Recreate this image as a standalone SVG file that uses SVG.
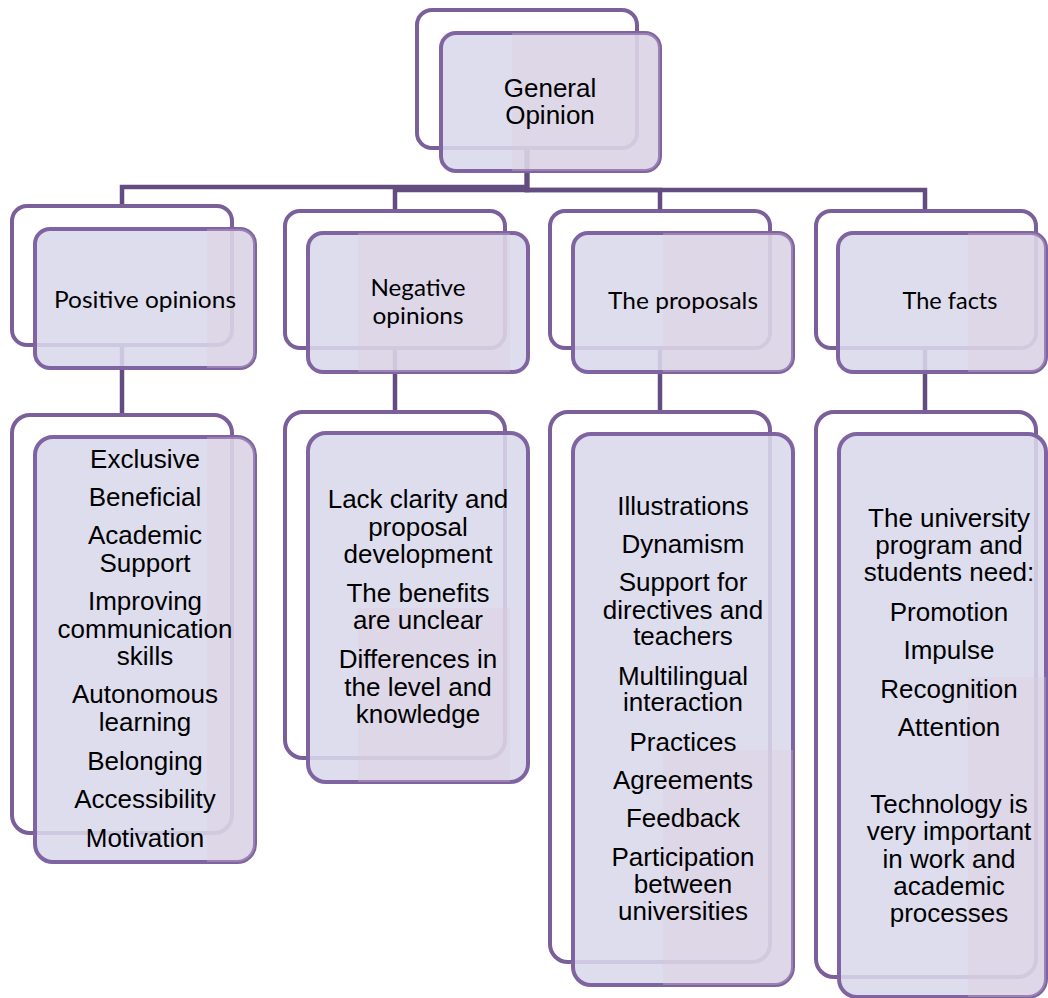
<svg xmlns="http://www.w3.org/2000/svg" width="1048" height="998" viewBox="0 0 1048 998">
<style>
.back{fill:#ffffff;stroke:#7b5f9b;stroke-width:4}
.front{fill:#d9d8ea;fill-opacity:0.88;stroke:#8064a2;stroke-width:4}
.tint{fill:#dccbdb;fill-opacity:0.3}
.conn{fill:none;stroke:#634d80;stroke-width:4.5}
.hd{font-family:Lato,"Open Sans","Noto Sans",sans-serif;font-size:24px;fill:#000;text-anchor:middle}
.bd{font-family:"Liberation Sans",Arial,sans-serif;font-size:26px;fill:#000;text-anchor:middle}
</style>
<defs>
<clipPath id="cTop"><rect x="441" y="33" width="219" height="138" rx="15"/></clipPath>
<clipPath id="cPh"><rect x="35" y="229" width="220" height="139" rx="15"/></clipPath>
<clipPath id="cNh"><rect x="308" y="233" width="220" height="139" rx="15"/></clipPath>
<clipPath id="cRh"><rect x="573" y="233" width="220" height="139" rx="15"/></clipPath>
<clipPath id="cFh"><rect x="838" y="233" width="208" height="139" rx="15"/></clipPath>
<clipPath id="cPb"><rect x="35" y="437" width="220" height="425" rx="18"/></clipPath>
<clipPath id="cNb"><rect x="308" y="433" width="220" height="349" rx="18"/></clipPath>
<clipPath id="cRb"><rect x="573" y="434" width="220" height="551" rx="18"/></clipPath>
<clipPath id="cFb"><rect x="839" y="434" width="207" height="563" rx="18"/></clipPath>
</defs>

<g id="connectors">
<path class="conn" d="M527,148 V187 H122 V207"/>
<path class="conn" d="M527,148 V190 H395 V211"/>
<path class="conn" d="M527,148 V190 H660 V211"/>
<path class="conn" d="M527,148 V190 H925 V211"/>
<path class="conn" d="M122,345 V415"/>
<path class="conn" d="M395,348 V412"/>
<path class="conn" d="M660,348 V412"/>
<path class="conn" d="M925,348 V412"/>
</g>

<g id="general-opinion">
<rect class="back" x="417" y="10" width="220" height="138" rx="15"/>
<rect class="front" x="441" y="33" width="219" height="138" rx="15"/>
<rect class="tint" x="512" y="33" width="150" height="140" clip-path="url(#cTop)"/>
<text class="bd" x="550" y="97">General</text>
<text class="bd" x="550" y="124">Opinion</text>
</g>

<g id="positive-opinions">
<rect class="back" x="12" y="206" width="220" height="139" rx="15"/>
<rect class="front" x="35" y="229" width="220" height="139" rx="15"/>
<rect class="tint" x="207" y="229" width="50" height="141" clip-path="url(#cPh)"/>
<text class="hd" x="145" y="308" textLength="182" lengthAdjust="spacingAndGlyphs">Positive opinions</text>
</g>

<g id="negative-opinions">
<rect class="back" x="285" y="211" width="220" height="137" rx="15"/>
<rect class="front" x="308" y="233" width="220" height="139" rx="15"/>
<rect class="tint" x="358" y="233" width="152" height="141" clip-path="url(#cNh)"/>
<text class="hd" x="418" y="296" textLength="95" lengthAdjust="spacingAndGlyphs">Negative</text>
<text class="hd" x="418" y="324" textLength="91" lengthAdjust="spacingAndGlyphs">opinions</text>
</g>

<g id="the-proposals">
<rect class="back" x="550" y="211" width="220" height="137" rx="15"/>
<rect class="front" x="573" y="233" width="220" height="139" rx="15"/>
<rect class="tint" x="663" y="233" width="132" height="141" clip-path="url(#cRh)"/>
<text class="hd" x="683" y="309" textLength="150" lengthAdjust="spacingAndGlyphs">The proposals</text>
</g>

<g id="the-facts">
<rect class="back" x="816" y="211" width="220" height="137" rx="15"/>
<rect class="front" x="838" y="233" width="208" height="139" rx="15"/>
<rect class="tint" x="968" y="233" width="80" height="141" clip-path="url(#cFh)"/>
<text class="hd" x="950" y="309" textLength="95" lengthAdjust="spacingAndGlyphs">The facts</text>
</g>

<g id="positive-list">
<rect class="back" x="12" y="415" width="220" height="418" rx="18"/>
<rect class="front" x="35" y="437" width="220" height="425" rx="18"/>
<rect class="tint" x="207" y="437" width="50" height="427" clip-path="url(#cPb)"/>
<text class="bd" x="145" y="468">Exclusive</text>
<text class="bd" x="145" y="506">Beneficial</text>
<text class="bd" x="145" y="544">Academic</text>
<text class="bd" x="145" y="572">Support</text>
<text class="bd" x="145" y="610">Improving</text>
<text class="bd" x="145" y="638">communication</text>
<text class="bd" x="145" y="665">skills</text>
<text class="bd" x="145" y="703">Autonomous</text>
<text class="bd" x="145" y="731">learning</text>
<text class="bd" x="145" y="770">Belonging</text>
<text class="bd" x="145" y="808">Accessibility</text>
<text class="bd" x="145" y="847">Motivation</text>
</g>

<g id="negative-list">
<rect class="back" x="285" y="412" width="220" height="346" rx="18"/>
<rect class="front" x="308" y="433" width="220" height="349" rx="18"/>
<rect class="tint" x="358" y="608" width="152" height="176" clip-path="url(#cNb)"/>
<text class="bd" x="418" y="508">Lack clarity and</text>
<text class="bd" x="418" y="536">proposal</text>
<text class="bd" x="418" y="563">development</text>
<text class="bd" x="418" y="602">The benefits</text>
<text class="bd" x="418" y="629">are unclear</text>
<text class="bd" x="418" y="668">Differences in</text>
<text class="bd" x="418" y="696">the level and</text>
<text class="bd" x="418" y="723">knowledge</text>
</g>

<g id="proposals-list">
<rect class="back" x="550" y="412" width="220" height="550" rx="18"/>
<rect class="front" x="573" y="434" width="220" height="551" rx="18"/>
<rect class="tint" x="663" y="750" width="132" height="237" clip-path="url(#cRb)"/>
<text class="bd" x="683" y="515">Illustrations</text>
<text class="bd" x="683" y="553">Dynamism</text>
<text class="bd" x="683" y="591">Support for</text>
<text class="bd" x="683" y="619">directives and</text>
<text class="bd" x="683" y="645">teachers</text>
<text class="bd" x="683" y="685">Multilingual</text>
<text class="bd" x="683" y="711">interaction</text>
<text class="bd" x="683" y="751">Practices</text>
<text class="bd" x="683" y="789">Agreements</text>
<text class="bd" x="683" y="827">Feedback</text>
<text class="bd" x="683" y="866">Participation</text>
<text class="bd" x="683" y="893">between</text>
<text class="bd" x="683" y="920">universities</text>
</g>

<g id="facts-list">
<rect class="back" x="816" y="412" width="220" height="565" rx="18"/>
<rect class="front" x="839" y="434" width="207" height="563" rx="18"/>
<rect class="tint" x="968" y="677" width="80" height="322" clip-path="url(#cFb)"/>
<text class="bd" x="949" y="527">The university</text>
<text class="bd" x="949" y="554">program and</text>
<text class="bd" x="949" y="581">students need:</text>
<text class="bd" x="949" y="621">Promotion</text>
<text class="bd" x="949" y="659">Impulse</text>
<text class="bd" x="949" y="698">Recognition</text>
<text class="bd" x="949" y="736">Attention</text>
<text class="bd" x="949" y="813">Technology is</text>
<text class="bd" x="949" y="840">very important</text>
<text class="bd" x="949" y="868">in work and</text>
<text class="bd" x="949" y="895">academic</text>
<text class="bd" x="949" y="922">processes</text>
</g>
</svg>
